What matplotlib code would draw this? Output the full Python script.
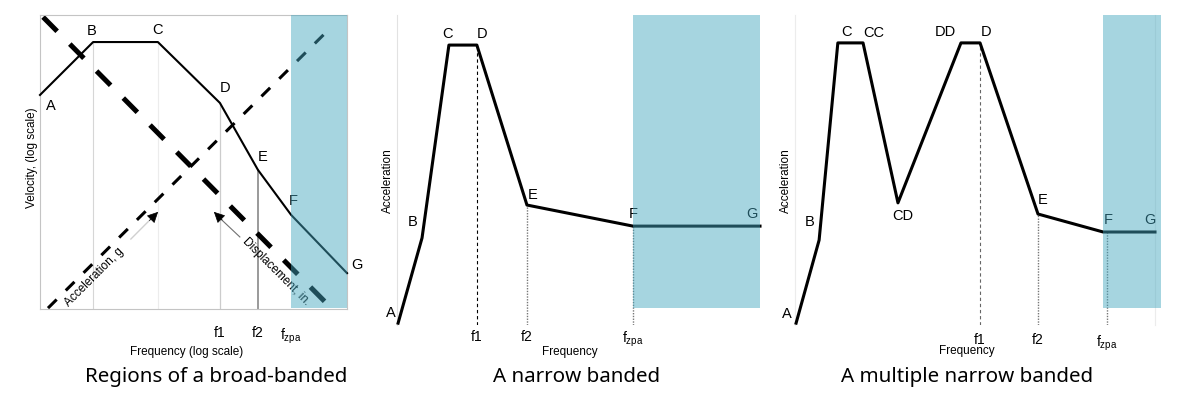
import matplotlib
matplotlib.use("Agg")
import matplotlib.pyplot as plt

plt.rcParams['font.family'] = ['Liberation Sans', 'DejaVu Sans']
plt.rcParams['mathtext.fontset'] = 'custom'
plt.rcParams['mathtext.rm'] = 'Liberation Sans'
plt.rcParams['mathtext.it'] = 'Liberation Sans:italic'

# ---- data (schematic units, 0-100 on both axes) ----
# broad-banded velocity spectrum
bb_labels = ['A', 'B', 'C', 'D', 'E', 'F', 'G']
bb_x = [0.0, 17.3, 38.4, 58.6, 71.0, 81.8, 100.0]
bb_y = [72.8, 90.8, 90.8, 70.1, 47.3, 32.0, 12.2]
bb_ticks = [58.6, 71.0, 81.8]
disp_x = [1.0, 94.5]
disp_y = [99.3, 0.7]
acc_x = [2.6, 94.8]
acc_y = [0.3, 95.8]

# narrow banded
nb_labels = ['A', 'B', 'C', 'D', 'E', 'F', 'G']
nb_x = [0.3, 6.9, 14.3, 22.0, 35.8, 65.0, 100.0]
nb_y = [0.6, 28.1, 90.3, 90.3, 38.7, 31.9, 31.9]
nb_ticks = [22.0, 35.8, 65.0]

# multiple narrow banded
mb_labels = ['A', 'B', 'C', 'CC', 'CD', 'DD', 'D', 'E', 'F', 'G']
mb_x = [0.3, 6.7, 11.9, 18.9, 28.6, 46.1, 51.4, 67.5, 85.6, 100.0]
mb_y = [0.6, 27.4, 91.0, 91.0, 39.4, 91.0, 91.0, 35.8, 30.0, 30.0]
mb_ticks = [51.4, 67.5, 86.7]

tick_names = ['f1', 'f2', r'$\mathregular{f_{zpa}}$']

SHADE = '#42a6bf'
W, H = 1197, 396


def px_axes(fig, left, top, right, bottom):
    return fig.add_axes([left / W, 1 - bottom / H, (right - left) / W, (bottom - top) / H])


def put_labels(ax, xs, ys, names, offsets):
    for x, y, s, off in zip(xs, ys, names, offsets):
        ax.annotate(s, (x, y), xytext=off, textcoords='offset points',
                    ha='center', va='center', fontsize=10.5, annotation_clip=False)


def setup(ax, ticks, pad):
    ax.set_xlim(0, 100)
    ax.set_ylim(0, 100)
    ax.set_yticks([])
    ax.set_xticks(ticks, tick_names)
    ax.tick_params(axis='x', length=0, labelsize=10, pad=pad)


fig = plt.figure(figsize=(W / 100, H / 100), dpi=100)

# ---------- panel 1 ----------
ax1 = px_axes(fig, 40, 15, 347, 309)
setup(ax1, bb_ticks, 12.5)
for sp in ax1.spines.values():
    sp.set_color('#c4c4c4')
    sp.set_linewidth(0.8)

guide_cols = ['#d6d6d6', '#ececec', '#cccccc', '#9a9a9a']
guide_lw = [0.8, 0.8, 0.9, 1.4]
for i, c, lw in zip(range(1, 5), guide_cols, guide_lw):
    ax1.plot([bb_x[i], bb_x[i]], [0, bb_y[i]], color=c, lw=lw, zorder=1)

ax1.plot(bb_x, bb_y, color='black', lw=1.5, zorder=3, clip_on=False)
ax1.plot(disp_x, disp_y, color='black', lw=3.6, dashes=(4, 3.6), zorder=2)
ax1.plot(acc_x, acc_y, color='black', lw=2.2, dashes=(4, 4.2), zorder=2)

# arrows pointing at the guide lines
ax1.plot([29.6, 36.0], [23.8, 30.5], color='#d0d0d0', lw=1)
ax1.annotate('', xy=(39.1, 33.7), xytext=(35.0, 29.4),
             arrowprops=dict(arrowstyle='-|>', color='black', lw=0.5, mutation_scale=17))
ax1.plot([65.1, 59.0], [24.5, 30.5], color='#707070', lw=0.8)
ax1.annotate('', xy=(56.0, 33.7), xytext=(60.0, 29.6),
             arrowprops=dict(arrowstyle='-|>', color='black', lw=0.5, mutation_scale=17))
ax1.text(17.6, 10.9, 'Acceleration, g', rotation=45, ha='center', va='center', fontsize=8.5)
ax1.text(77.0, 12.6, 'Displacement, in.', rotation=-45, ha='center', va='center', fontsize=8.5)

put_labels(ax1, bb_x, bb_y, bb_labels,
           [(8, -8), (-1, 8), (0, 9), (4, 11), (3, 9), (1.5, 10), (7.5, 6)])
ax1.axvspan(bb_x[5], 100, ymin=0.003, ymax=1, color=SHADE, alpha=0.47, lw=0, zorder=10)
ax1.text(0.476, -0.145, 'Frequency (log scale)', transform=ax1.transAxes,
         ha='center', va='center', fontsize=8.5)
ax1.text(-0.026, 0.514, 'Velocity, (log scale)', transform=ax1.transAxes, rotation=90,
         ha='center', va='center', fontsize=8.5)

# ---------- panel 2 ----------
ax2 = px_axes(fig, 397, 15, 760, 325)
setup(ax2, nb_ticks, 3.5)
for k in ['top', 'right', 'bottom']:
    ax2.spines[k].set_visible(False)
ax2.spines['left'].set_color('#e2e2e2')
ax2.spines['left'].set_linewidth(0.8)

ax2.plot([nb_ticks[0]] * 2, [0, nb_y[3]], color='black', lw=0.8, dashes=(3, 2.5))
ax2.plot([nb_ticks[1]] * 2, [0, nb_y[4]], color='#777777', lw=1, dashes=(1, 1))
ax2.plot([nb_ticks[2]] * 2, [0, nb_y[5]], color='#777777', lw=1, dashes=(1, 1))
ax2.plot(nb_x, nb_y, color='black', lw=2.2, zorder=3, clip_on=False)
put_labels(ax2, nb_x, nb_y, nb_labels,
           [(-5, 7), (-7, 11.5), (-1, 8), (4, 8), (4, 7), (0, 9), (-6, 9)])
ax2.axvspan(nb_x[5], 100, ymin=0.055, ymax=1, color=SHADE, alpha=0.47, lw=0, zorder=10)
ax2.text(0.477, -0.088, 'Frequency', transform=ax2.transAxes,
         ha='center', va='center', fontsize=8.5)
ax2.text(-0.025, 0.465, 'Acceleration', transform=ax2.transAxes, rotation=90,
         ha='center', va='center', fontsize=8.5)

# ---------- panel 3 ----------
ax3 = px_axes(fig, 795, 15, 1155, 325)
setup(ax3, mb_ticks, 6)
for k in ['top', 'bottom']:
    ax3.spines[k].set_visible(False)
for k in ['left', 'right']:
    ax3.spines[k].set_color('#ececec')
    ax3.spines[k].set_linewidth(0.8)

ax3.plot([mb_ticks[0]] * 2, [0, mb_y[6]], color='#666666', lw=0.8, dashes=(3, 2.5))
ax3.plot([mb_ticks[1]] * 2, [0, mb_y[7]], color='#777777', lw=1, dashes=(1, 1))
ax3.plot([mb_ticks[2]] * 2, [0, mb_y[8]], color='#777777', lw=1, dashes=(1, 1))
ax3.plot(mb_x, mb_y, color='black', lw=2.2, zorder=3, clip_on=False)
put_labels(ax3, mb_x, mb_y, mb_labels,
           [(-7, 6.5), (-6.5, 13), (6, 8), (8, 7), (3.5, -9.5), (-11, 8), (4, 8),
            (3.5, 10), (3.5, 8.5), (-4, 8.5)])
ax3.axvspan(mb_x[8], 101.7, ymin=0.055, ymax=1, color=SHADE, alpha=0.47, lw=0,
            zorder=10, clip_on=False)
ax3.text(0.478, -0.085, 'Frequency', transform=ax3.transAxes,
         ha='center', va='center', fontsize=8.5)
ax3.text(-0.025, 0.465, 'Acceleration', transform=ax3.transAxes, rotation=90,
         ha='center', va='center', fontsize=8.5)

# ---------- captions ----------
for xc, cap in zip([216, 577, 967],
                   ['Regions of a broad-banded', 'A narrow banded', 'A multiple narrow banded']):
    fig.text(xc / W, 1 - 377 / H, cap, ha='center', va='center', fontsize=14.8,
             family=['Noto Sans', 'DejaVu Sans'])

fig.savefig('out.png', dpi=100)
